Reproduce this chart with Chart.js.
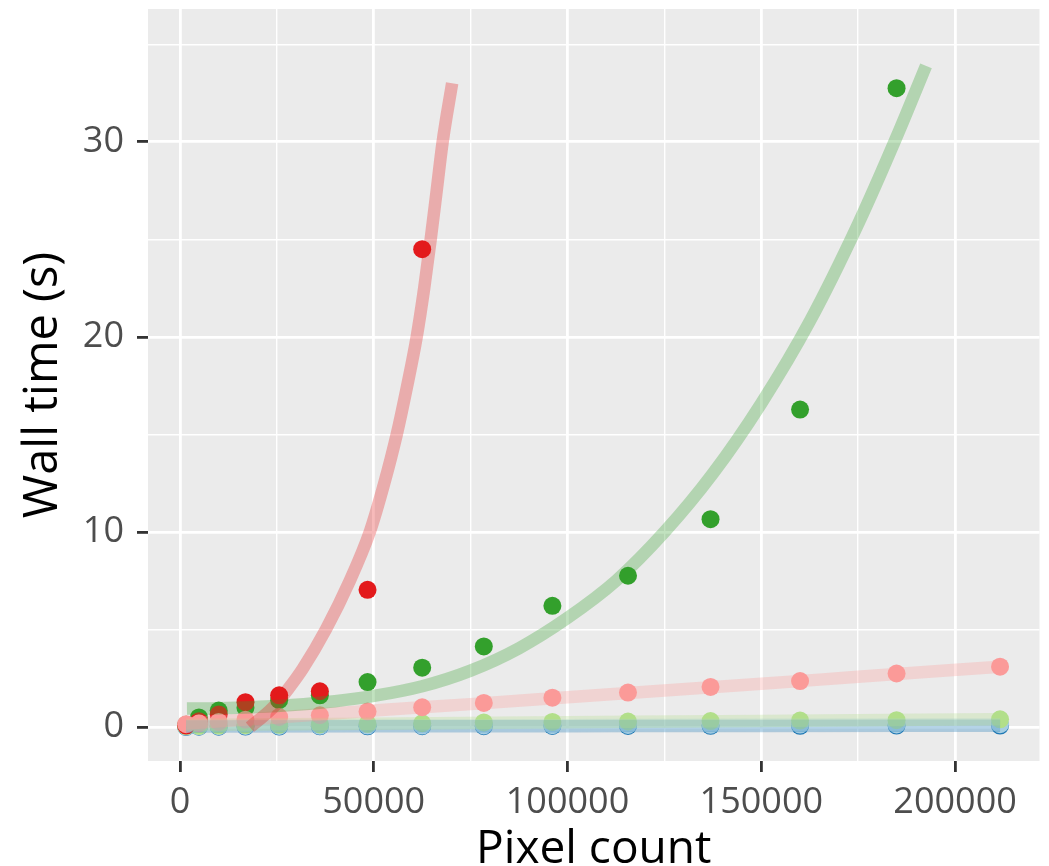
<!DOCTYPE html>
<html>
<head>
<meta charset="utf-8">
<script src="https://cdn.jsdelivr.net/npm/chart.js@4.4.1/dist/chart.umd.min.js"></script>
<style>
html,body{margin:0;padding:0;background:#ffffff;}
#wrap{width:1049px;height:866px;position:relative;}
</style>
</head>
<body>
<div id="wrap"><canvas id="c"></canvas></div>
<script>
// ---- data ----
const pixelCounts = [1600, 4900, 10000, 16900, 25600, 36100, 48400, 62500, 78400, 96100, 115600, 136900, 160000, 184900, 211600];

// measured wall times (s) per series
const redTimes        = [0.08, 0.30, 0.65, 1.28, 1.63, 1.84, 7.04, 24.5];
const darkGreenTimes  = [0.12, 0.50, 0.85, 1.00, 1.38, 1.63, 2.31, 3.05, 4.14, 6.22, 7.76, 10.66, 16.28, 32.75];
const pinkTimes       = [0.15, 0.20, 0.27, 0.38, 0.52, 0.61, 0.80, 1.02, 1.24, 1.51, 1.77, 2.06, 2.36, 2.75, 3.10];
const lightGreenTimes = [0.05, 0.06, 0.08, 0.10, 0.12, 0.14, 0.17, 0.20, 0.24, 0.27, 0.29, 0.31, 0.34, 0.36, 0.40];
const lightBlueTimes  = [0.03, 0.04, 0.05, 0.06, 0.06, 0.07, 0.08, 0.08, 0.09, 0.10, 0.11, 0.12, 0.13, 0.14, 0.15];
const blueTimes       = [0.01, 0.02, 0.02, 0.03, 0.03, 0.04, 0.04, 0.05, 0.05, 0.06, 0.06, 0.07, 0.07, 0.08, 0.08];

// fitted (smoothed) curves
const redFitX  = [18040, 23970, 28090, 31700, 37630, 43810, 48970, 52710, 55930, 58630, 61080, 63020, 64690, 66240, 67780, 70230];
const redFitY  = [0.0, 1.0, 2.0, 3.0, 5.0, 7.5, 10.0, 12.5, 15.0, 17.5, 20.0, 22.5, 25.0, 27.5, 30.0, 33.0];
const greenFitX = [1800, 10000, 25000, 40000, 50000, 62500, 75000, 87500, 100000, 112500, 125000, 137500, 150000, 162500, 175000, 185000, 192500];
const greenFitY = [0.95, 0.97, 1.08, 1.33, 1.6, 2.1, 2.9, 4.05, 5.6, 7.5, 10.0, 13.0, 16.6, 20.8, 25.8, 30.3, 33.9];
const pinkFitX = [1600, 25000, 50000, 75000, 100000, 125000, 150000, 175000, 211600];
const pinkFitY = [0.18, 0.50, 0.85, 1.18, 1.53, 1.88, 2.22, 2.58, 3.10];
const lightGreenFitX = [1600, 50000, 100000, 150000, 211600];
const lightGreenFitY = [0.12, 0.18, 0.25, 0.32, 0.40];
const lightBlueFitX = [1600, 50000, 100000, 150000, 211600];
const lightBlueFitY = [0.06, 0.08, 0.10, 0.12, 0.14];
const blueFitX = [1600, 50000, 100000, 150000, 211600];
const blueFitY = [0.03, 0.04, 0.05, 0.06, 0.07];

// axis ticks
const xTickValues = [0, 25000, 50000, 75000, 100000, 125000, 150000, 175000, 200000];
const xTickLabels = ['0', '', '50000', '', '100000', '', '150000', '', '200000'];
const yTickValues = [0, 5, 10, 15, 20, 25, 30, 35];
const yTickLabels = ['0', '', '10', '', '20', '', '30', ''];

// ---- helpers ----
const pts = (xs, ys) => ys.map((y, i) => ({x: xs[i], y: y}));
const rgba = (hex, a) => {
  const n = parseInt(hex.slice(1), 16);
  return `rgba(${(n >> 16) & 255},${(n >> 8) & 255},${n & 255},${a})`;
};
const COL = {red: '#E31A1C', dgreen: '#33A02C', pink: '#FB9A99', lgreen: '#B2DF8A', lblue: '#A6CEE3', blue: '#1F78B4'};

const pointSet = (data, color) => ({
  type: 'scatter', data: data, order: 1,
  pointRadius: 9, pointHoverRadius: 9, pointBorderWidth: 0,
  pointBackgroundColor: color, borderColor: color, showLine: false
});
const lineSet = (data, color) => ({
  type: 'line', data: data, order: 0,
  borderColor: rgba(color, 0.3), borderWidth: 12.5, pointRadius: 0,
  fill: false, cubicInterpolationMode: 'monotone', borderCapStyle: 'butt'
});

const panelBg = {
  id: 'panelBg',
  beforeDraw(chart) {
    const {ctx, chartArea: a} = chart;
    ctx.save();
    ctx.fillStyle = '#EBEBEB';
    ctx.fillRect(a.left, a.top, a.right - a.left, a.bottom - a.top);
    ctx.restore();
  }
};

const FONT = "'Open Sans', 'Noto Sans', 'DejaVu Sans', sans-serif";
const isMajor = (vals, labels, v) => labels[vals.indexOf(v)] !== '';

new Chart(document.getElementById('c'), {
  type: 'scatter',
  data: {
    datasets: [
      lineSet(pts(redFitX, redFitY), COL.red),
      lineSet(pts(greenFitX, greenFitY), COL.dgreen),
      lineSet(pts(pinkFitX, pinkFitY), COL.pink),
      lineSet(pts(lightGreenFitX, lightGreenFitY), COL.lgreen),
      lineSet(pts(lightBlueFitX, lightBlueFitY), COL.lblue),
      lineSet(pts(blueFitX, blueFitY), COL.blue),
      pointSet(pts(pixelCounts, pinkTimes), COL.pink),
      pointSet(pts(pixelCounts, redTimes), COL.red),
      pointSet(pts(pixelCounts, darkGreenTimes), COL.dgreen),
      pointSet(pts(pixelCounts, lightGreenTimes), COL.lgreen),
      pointSet(pts(pixelCounts, lightBlueTimes), COL.lblue),
      pointSet(pts(pixelCounts, blueTimes), COL.blue)
    ]
  },
  options: {
    responsive: true,
    maintainAspectRatio: false,
    animation: false,
    layout: {padding: {top: 5.5, right: 9.5, left: 0, bottom: 0}},
    plugins: {legend: {display: false}, tooltip: {enabled: false}},
    scales: {
      x: {
        type: 'linear',
        min: -8247, max: 221780,
        afterBuildTicks: s => { s.ticks = xTickValues.map(v => ({value: v})); },
        afterFit: s => { s.height = 105; s.paddingLeft = 0; s.paddingRight = 0; },
        border: {display: false},
        grid: {
          color: '#FFFFFF',
          lineWidth: c => (c.tick && isMajor(xTickValues, xTickLabels, c.tick.value)) ? 2.8 : 1.4,
          drawTicks: true, tickLength: 11, tickWidth: 2.8,
          tickColor: c => (c.tick && isMajor(xTickValues, xTickLabels, c.tick.value)) ? '#333333' : 'rgba(0,0,0,0)'
        },
        ticks: {
          autoSkip: false, maxRotation: 0, padding: 9,
          color: '#4D4D4D', font: {family: FONT, size: 36},
          callback: v => { const i = xTickValues.indexOf(v); return i >= 0 ? xTickLabels[i] : ''; }
        },
        title: {
          display: true, text: 'Pixel count', color: '#000000',
          font: {family: FONT, size: 46, lineHeight: 0.5},
          padding: {top: 0, bottom: 4.5}
        }
      },
      y: {
        type: 'linear',
        min: -1.735, max: 36.81,
        afterBuildTicks: s => { s.ticks = yTickValues.map(v => ({value: v})); },
        afterFit: s => { s.width = 148; s.paddingTop = 0; s.paddingBottom = 0; },
        border: {display: false},
        grid: {
          color: '#FFFFFF',
          lineWidth: c => (c.tick && isMajor(yTickValues, yTickLabels, c.tick.value)) ? 2.8 : 1.4,
          drawTicks: true, tickLength: 11, tickWidth: 2.8,
          tickColor: c => (c.tick && isMajor(yTickValues, yTickLabels, c.tick.value)) ? '#333333' : 'rgba(0,0,0,0)'
        },
        ticks: {
          autoSkip: false, padding: 13,
          color: '#4D4D4D', font: {family: FONT, size: 36},
          callback: v => { const i = yTickValues.indexOf(v); return i >= 0 ? yTickLabels[i] : ''; }
        },
        title: {
          display: true, text: 'Wall time (s)', color: '#000000',
          font: {family: FONT, size: 47, lineHeight: 0.5},
          padding: {top: 32, bottom: 0}
        }
      }
    }
  },
  plugins: [panelBg]
});
</script>
</body>
</html>
